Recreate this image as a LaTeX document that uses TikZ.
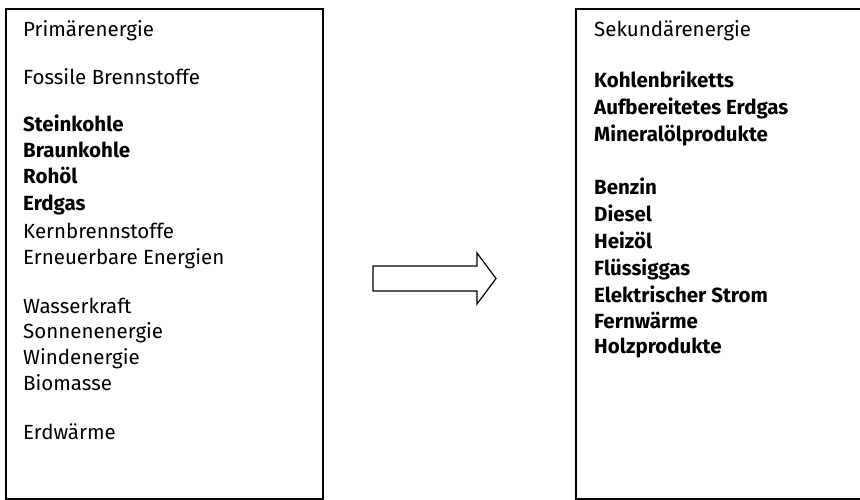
\documentclass[tikz,border=0pt]{standalone}
\usepackage{fontspec}
\setmainfont{Fira Sans}
\begin{document}
\begin{tikzpicture}[x=1pt,y=-1pt,
  boxline/.style={draw=black, line width=1.3pt},
  reg/.style={anchor=base west, inner sep=0pt, font=\fontsize{20.5}{22}\selectfont},
  bld/.style={reg, font=\fontsize{20.5}{22}\selectfont\bfseries}]
\useasboundingbox (0,0) rectangle (860,500);
\clip (0,0) rectangle (860,500);
% boxes
\draw[boxline] (6,9) rectangle (323,499);
\draw[boxline] (576,9) rectangle (880,499);
% arrow
\draw[line width=1.2pt, line join=miter] (373,266) -- (477,266) -- (477,253) -- (496,278.5) -- (477,304) -- (477,291) -- (373,291) -- cycle;
% left texts
\node[reg] (l1) at (23,37) {Primärenergie};
\node[reg] (l2) at (23,85) {Fossile Brennstoffe};
\node[bld] (l3) at (23,132) {Steinkohle};
\node[bld] (l4) at (23,158) {Braunkohle};
\node[bld] (l5) at (23,184) {Rohöl};
\node[bld] (l6) at (23,211) {Erdgas};
\node[reg] (l7) at (23,238) {Kernbrennstoffe};
\node[reg] (l8) at (23,264) {Erneuerbare Energien};
\node[reg] (l9) at (23,313) {Wasserkraft};
\node[reg] (l10) at (23,338) {Sonnenenergie};
\node[reg] (l11) at (23,364) {Windenergie};
\node[reg] (l12) at (23,390) {Biomasse};
\node[reg] (l13) at (23,439) {Erdwärme};
% right texts
\node[reg] (r1) at (594,37) {Sekundärenergie};
\node[bld] (r2) at (594,88) {Kohlenbriketts};
\node[bld] (r3) at (594,115) {Aufbereitetes Erdgas};
\node[bld] (r4) at (594,142) {Mineralölprodukte};
\node[bld] (r5) at (594,195) {Benzin};
\node[bld] (r6) at (594,222) {Diesel};
\node[bld] (r7) at (594,248) {Heizöl};
\node[bld] (r8) at (594,275) {Flüssiggas};
\node[bld] (r9) at (594,302) {Elektrischer Strom};
\node[bld] (r10) at (594,328) {Fernwärme};
\node[bld] (r11) at (594,353) {Holzprodukte};
\end{tikzpicture}
\end{document}
